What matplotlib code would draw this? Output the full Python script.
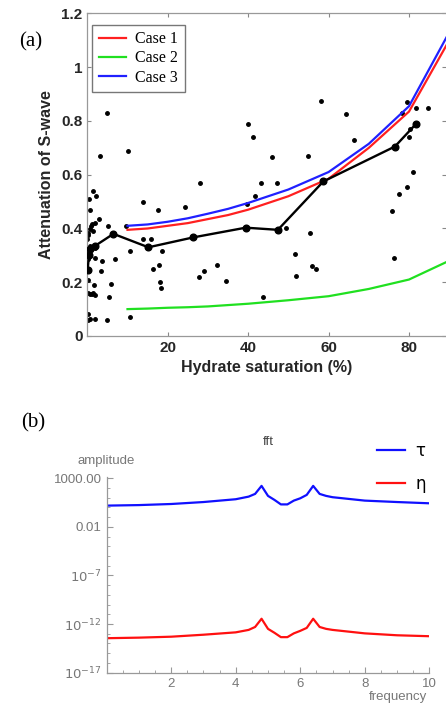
import matplotlib
matplotlib.use("Agg")
import matplotlib.pyplot as plt
import numpy as np

# ---- panel (a): S-wave attenuation vs hydrate saturation ----
sat_pts = [5.0, 3.1, 10.2, 28.1, 1.5, 0.5, 2.2, 0.6, 13.8, 17.5,
           24.3, 2.8, 1.9, 0.9, 0.1, 5.2, 9.6, 1.5, 13.9, 15.9,
           10.6, 18.7, 1.9, 6.9, 3.7, 17.8, 16.4, 3.3, 28.9, 27.8,
           0.1, 1.7, 5.9, 18.2, 18.3, 0.1, 0.7, 1.5, 5.5, 0.1,
           10.6, 0.1, 2.0, 5.0, 0.7, 58.1, 40.0, 41.1, 45.9, 54.8,
           43.3, 47.3, 41.6, 39.8, 49.4, 55.4, 51.6, 32.3, 55.8, 56.9,
           34.6, 51.9, 43.8, 64.4, 66.3, 79.6, 81.8, 84.6, 78.2, 80.3,
           80.1, 80.9, 79.5, 77.5, 75.7, 76.3,
           1.1, 0.7, 0.0, 0.7, 1.9, 0.25, 1.1, 1.9, 0.2, 0.2]
att_pts = [0.83, 0.67, 0.69, 0.57, 0.54, 0.51, 0.52, 0.47, 0.50, 0.47,
           0.48, 0.435, 0.42, 0.41, 0.385, 0.41, 0.41, 0.39, 0.36, 0.36,
           0.315, 0.315, 0.29, 0.285, 0.28, 0.265, 0.25, 0.24, 0.24, 0.22,
           0.21, 0.19, 0.195, 0.20, 0.18, 0.16, 0.155, 0.16, 0.145, 0.08,
           0.07, 0.06, 0.065, 0.06, 0.065, 0.875, 0.79, 0.74, 0.665, 0.67,
           0.57, 0.57, 0.52, 0.49, 0.40, 0.385, 0.305, 0.265, 0.26, 0.25,
           0.205, 0.225, 0.145, 0.825, 0.73, 0.87, 0.85, 0.85, 0.83, 0.77,
           0.74, 0.61, 0.555, 0.53, 0.465, 0.29,
           0.416, 0.397, 0.36, 0.335, 0.329, 0.304, 0.156, 0.154, 0.375, 0.285]

avg_sat = [0.1, 0.4, 0.7, 1.9, 6.5, 15.2, 26.4, 39.4, 47.4, 58.7, 76.5, 81.8]
avg_att = [0.245, 0.30, 0.325, 0.335, 0.38, 0.33, 0.367, 0.403, 0.395, 0.575, 0.705, 0.79]

model_sat = [10, 15, 20, 25, 30, 35, 40, 50, 60, 70, 80, 90]
case1 = [0.395, 0.40, 0.41, 0.42, 0.435, 0.45, 0.47, 0.52, 0.585, 0.70, 0.835, 1.10]
case2 = [0.10, 0.102, 0.105, 0.107, 0.11, 0.115, 0.12, 0.133, 0.148, 0.175, 0.21, 0.28]
case3 = [0.41, 0.415, 0.425, 0.438, 0.455, 0.473, 0.495, 0.545, 0.61, 0.715, 0.855, 1.13]

# ---- panel (b): fft amplitude ----
freq = [0, 1, 2, 3, 4, 4.4, 4.6, 4.8, 5.0, 5.2, 5.4,
        5.6, 5.8, 6.0, 6.2, 6.4, 6.6, 6.8, 7, 8, 9, 10]
amp_tau = [1.5, 1.7, 2.2, 3.5, 6.8, 12.6, 24, 160, 15, 5.8, 2.0,
           2.0, 4.9, 8.5, 19, 160, 24, 15, 11, 4.9, 3.5, 2.6]
amp_eta = [3.5e-14, 4e-14, 5e-14, 8e-14, 1.4e-13, 2.5e-13, 5e-13, 3.5e-12, 3.2e-13, 1.26e-13, 4.5e-14,
           4.5e-14, 1.1e-13, 2e-13, 4e-13, 3.5e-12, 5e-13, 3.2e-13, 2.5e-13, 1.1e-13, 7e-14, 5.6e-14]

fig = plt.figure(figsize=(4.46, 7.06), dpi=100)

# panel (a)
ax = fig.add_axes([0.1957, 0.5241, 0.8043, 0.4568])
ax.plot(model_sat, case1, color="#ff2020", lw=1.6, label="Case 1", zorder=3)
ax.plot(model_sat, case2, color="#20e020", lw=1.6, label="Case 2", zorder=3)
ax.plot(model_sat, case3, color="#2020ff", lw=1.6, label="Case 3", zorder=3)
ax.plot(sat_pts, att_pts, "o", color="black", ms=2.5, zorder=2)
ax.plot(avg_sat, avg_att, "-o", color="black", lw=1.7, ms=4.8, zorder=4)
ax.set_xlim(0, 89.2)
ax.set_ylim(0, 1.2)
ax.set_xticks([20, 40, 60, 80])
ax.set_yticks([0, 0.2, 0.4, 0.6, 0.8, 1, 1.2])
ax.set_yticklabels(["0", "0.2", "0.4", "0.6", "0.8", "1", "1.2"])
ax.tick_params(direction="in", length=3, color="#888888", top=True, right=True,
               labelsize=11, labelcolor="#262626")
for lab in ax.get_xticklabels() + ax.get_yticklabels():
    lab.set_fontweight("bold")
    lab.set_family("Liberation Sans")
for s in ax.spines.values():
    s.set_color("#999999")
    s.set_linewidth(0.9)
ax.spines["right"].set_visible(False)
ax.set_xlabel("Hydrate saturation (%)", fontsize=11.5, fontweight="bold",
              family="Liberation Sans", color="#262626", labelpad=4)
ax.set_ylabel("Attenuation of S-wave", fontsize=11.5, fontweight="bold",
              family="Liberation Sans", color="#262626", labelpad=5)
leg = ax.legend(loc="upper left", bbox_to_anchor=(0.014, 0.965), fancybox=False,
                prop={"family": "Liberation Serif", "size": 11.5}, handlelength=1.7,
                handletextpad=0.6, labelspacing=0.2, borderpad=0.4, borderaxespad=0)
leg.get_frame().set_edgecolor("#555555")
leg.get_frame().set_linewidth(1.0)
fig.text(0.068, 0.941, "(a)", fontsize=15, family="Liberation Serif", ha="center", va="center")

# panel (b)
bx = fig.add_axes([0.2392, 0.0472, 0.7234, 0.2776])
bx.plot(freq, amp_tau, color="#1010ff", lw=1.6, label="\u03c4")
bx.plot(freq, amp_eta, color="#ff1010", lw=1.6, label="\u03b7")
bx.set_yscale("log")
bx.set_xlim(0, 10)
bx.set_ylim(1e-17, 10 ** 3.15)
bx.set_xticks([2, 4, 6, 8, 10])
bx.set_xticks(np.arange(0, 10.01, 0.5), minor=True)
bx.set_yticks([1e3, 1e-2, 1e-7, 1e-12, 1e-17])
bx.set_yticklabels(["1000.00", "0.01", "$10^{-7}$", "$10^{-12}$", "$10^{-17}$"])
bx.set_yticks(10.0 ** np.arange(-17, 4), minor=True)
bx.yaxis.set_minor_formatter(matplotlib.ticker.NullFormatter())
bx.tick_params(which="major", direction="in", length=4, color="#999999",
               labelsize=9.5, labelcolor="#777777", width=0.8)
bx.tick_params(which="minor", direction="in", length=2, color="#999999", width=0.6)
for lab in bx.get_xticklabels() + bx.get_yticklabels():
    lab.set_family("Liberation Sans")
for side in ["top", "right"]:
    bx.spines[side].set_visible(False)
for side in ["left", "bottom"]:
    bx.spines[side].set_color("#999999")
    bx.spines[side].set_linewidth(0.9)
fig.text(0.601, 0.374, "fft", fontsize=9.5, family="Liberation Sans", color="#444444",
         ha="center", va="center")
fig.text(0.238, 0.347, "amplitude", fontsize=9.5, family="Liberation Sans", color="#777777",
         ha="center", va="center")
fig.text(0.957, 0.013, "frequency", fontsize=9.5, family="Liberation Sans", color="#777777",
         ha="right", va="center")
bleg = bx.legend(loc="upper left", bbox_to_anchor=(0.83, 0.383), bbox_transform=fig.transFigure,
                 frameon=False, prop={"family": "DejaVu Sans", "size": 12}, handlelength=1.7,
                 handletextpad=0.6, labelspacing=0.9, borderaxespad=0)
fig.text(0.074, 0.401, "(b)", fontsize=15, family="Liberation Serif", ha="center", va="center")

fig.savefig("out.png", dpi=100)
